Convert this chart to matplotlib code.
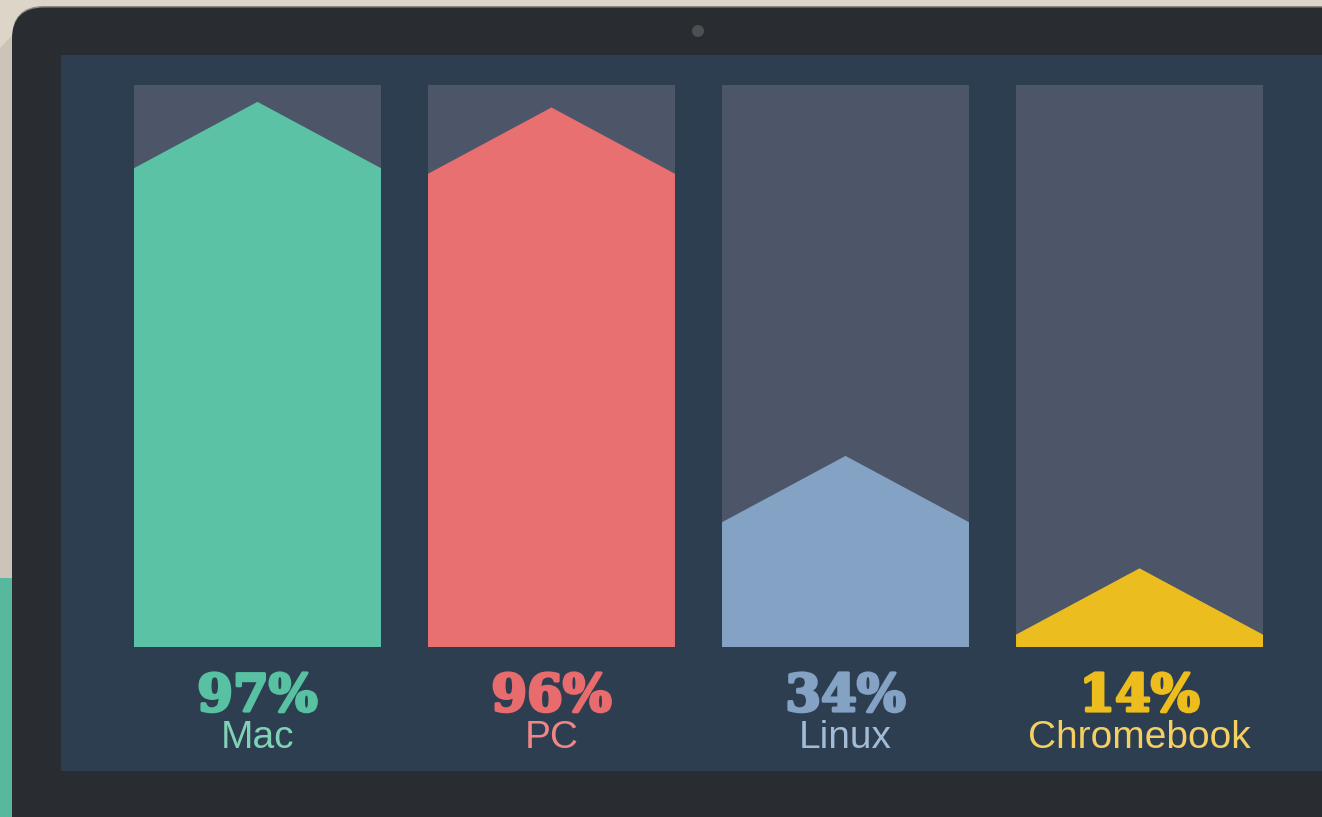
import matplotlib
matplotlib.use("Agg")
import matplotlib.pyplot as plt
from matplotlib.patches import Polygon, Rectangle, FancyBboxPatch, Circle
import matplotlib.patheffects as pe

# ---- data ----
categories = ["Mac", "PC", "Linux", "Chromebook"]
values = [97, 96, 34, 14]
pct_labels = ["97%", "96%", "34%", "14%"]

bar_colors = ["#5bc2a6", "#e87070", "#84a3c4", "#ebbd1f"]
pct_colors = ["#57c1a2", "#e86b6e", "#84a2c4", "#ecbd1c"]
name_colors = ["#80d2b6", "#f08686", "#a2bcd8", "#f4cf62"]

W, H = 1322, 817
fig = plt.figure(figsize=(W / 100, H / 100), dpi=100)
fig.patch.set_facecolor("#ddd5c8")

# ---- decoration axes in pixel space ----
bg = fig.add_axes([0, 0, 1, 1])
bg.set_xlim(0, W)
bg.set_ylim(H, 0)
bg.axis("off")
bg.add_patch(Polygon([[0, 48], [40, 6], [40, 578], [0, 578]], closed=True,
                     facecolor="#ccc4b8", edgecolor="none"))
bg.add_patch(Rectangle((0, 578), 40, 300, facecolor="#57b89e", edgecolor="none"))
bg.add_patch(FancyBboxPatch((12, 6), 1400, 900,
                            boxstyle="round,pad=0,rounding_size=32",
                            facecolor="#8d8983", edgecolor="none"))
bg.add_patch(FancyBboxPatch((12, 7.5), 1400, 900,
                            boxstyle="round,pad=0,rounding_size=32",
                            facecolor="#292d32", edgecolor="none"))
bg.add_patch(Rectangle((61, 55), 1300, 716, facecolor="#2d3e50", edgecolor="none"))
bg.add_patch(Circle((698, 31), 6, facecolor="#4b5053", edgecolor="none"))

# ---- data axes ----
left_px, right_px, top_px, bot_px = 134, 1263, 85, 647
ax = fig.add_axes([left_px / W, (H - bot_px) / H,
                   (right_px - left_px) / W, (bot_px - top_px) / H])
bw = 0.84
ax.set_xlim(-bw / 2, len(values) - 1 + bw / 2)
ax.set_ylim(0, 100)
ax.axis("off")

head = 11.8
for i, (v, c) in enumerate(zip(values, bar_colors)):
    ax.add_patch(Rectangle((i - bw / 2, 0), bw, 100, facecolor="#4d5668",
                           edgecolor="none"))
    shoulder = max(v - head, 0)
    pts = [[i - bw / 2, 0], [i + bw / 2, 0], [i + bw / 2, shoulder],
           [i, v], [i - bw / 2, shoulder]]
    ax.add_patch(Polygon(pts, closed=True, facecolor=c, edgecolor="none"))
    ax.text(i, -11.4, pct_labels[i], ha="center", va="baseline",
            fontsize=37, fontweight="bold", family="DejaVu Serif",
            color=pct_colors[i], clip_on=False,
            path_effects=[pe.withStroke(linewidth=2.2, foreground=pct_colors[i])])
    ax.text(i, -18.0, categories[i], ha="center", va="baseline",
            fontsize=28, family="Liberation Sans",
            color=name_colors[i], clip_on=False)

fig.savefig("out.png", dpi=100, facecolor=fig.get_facecolor())
